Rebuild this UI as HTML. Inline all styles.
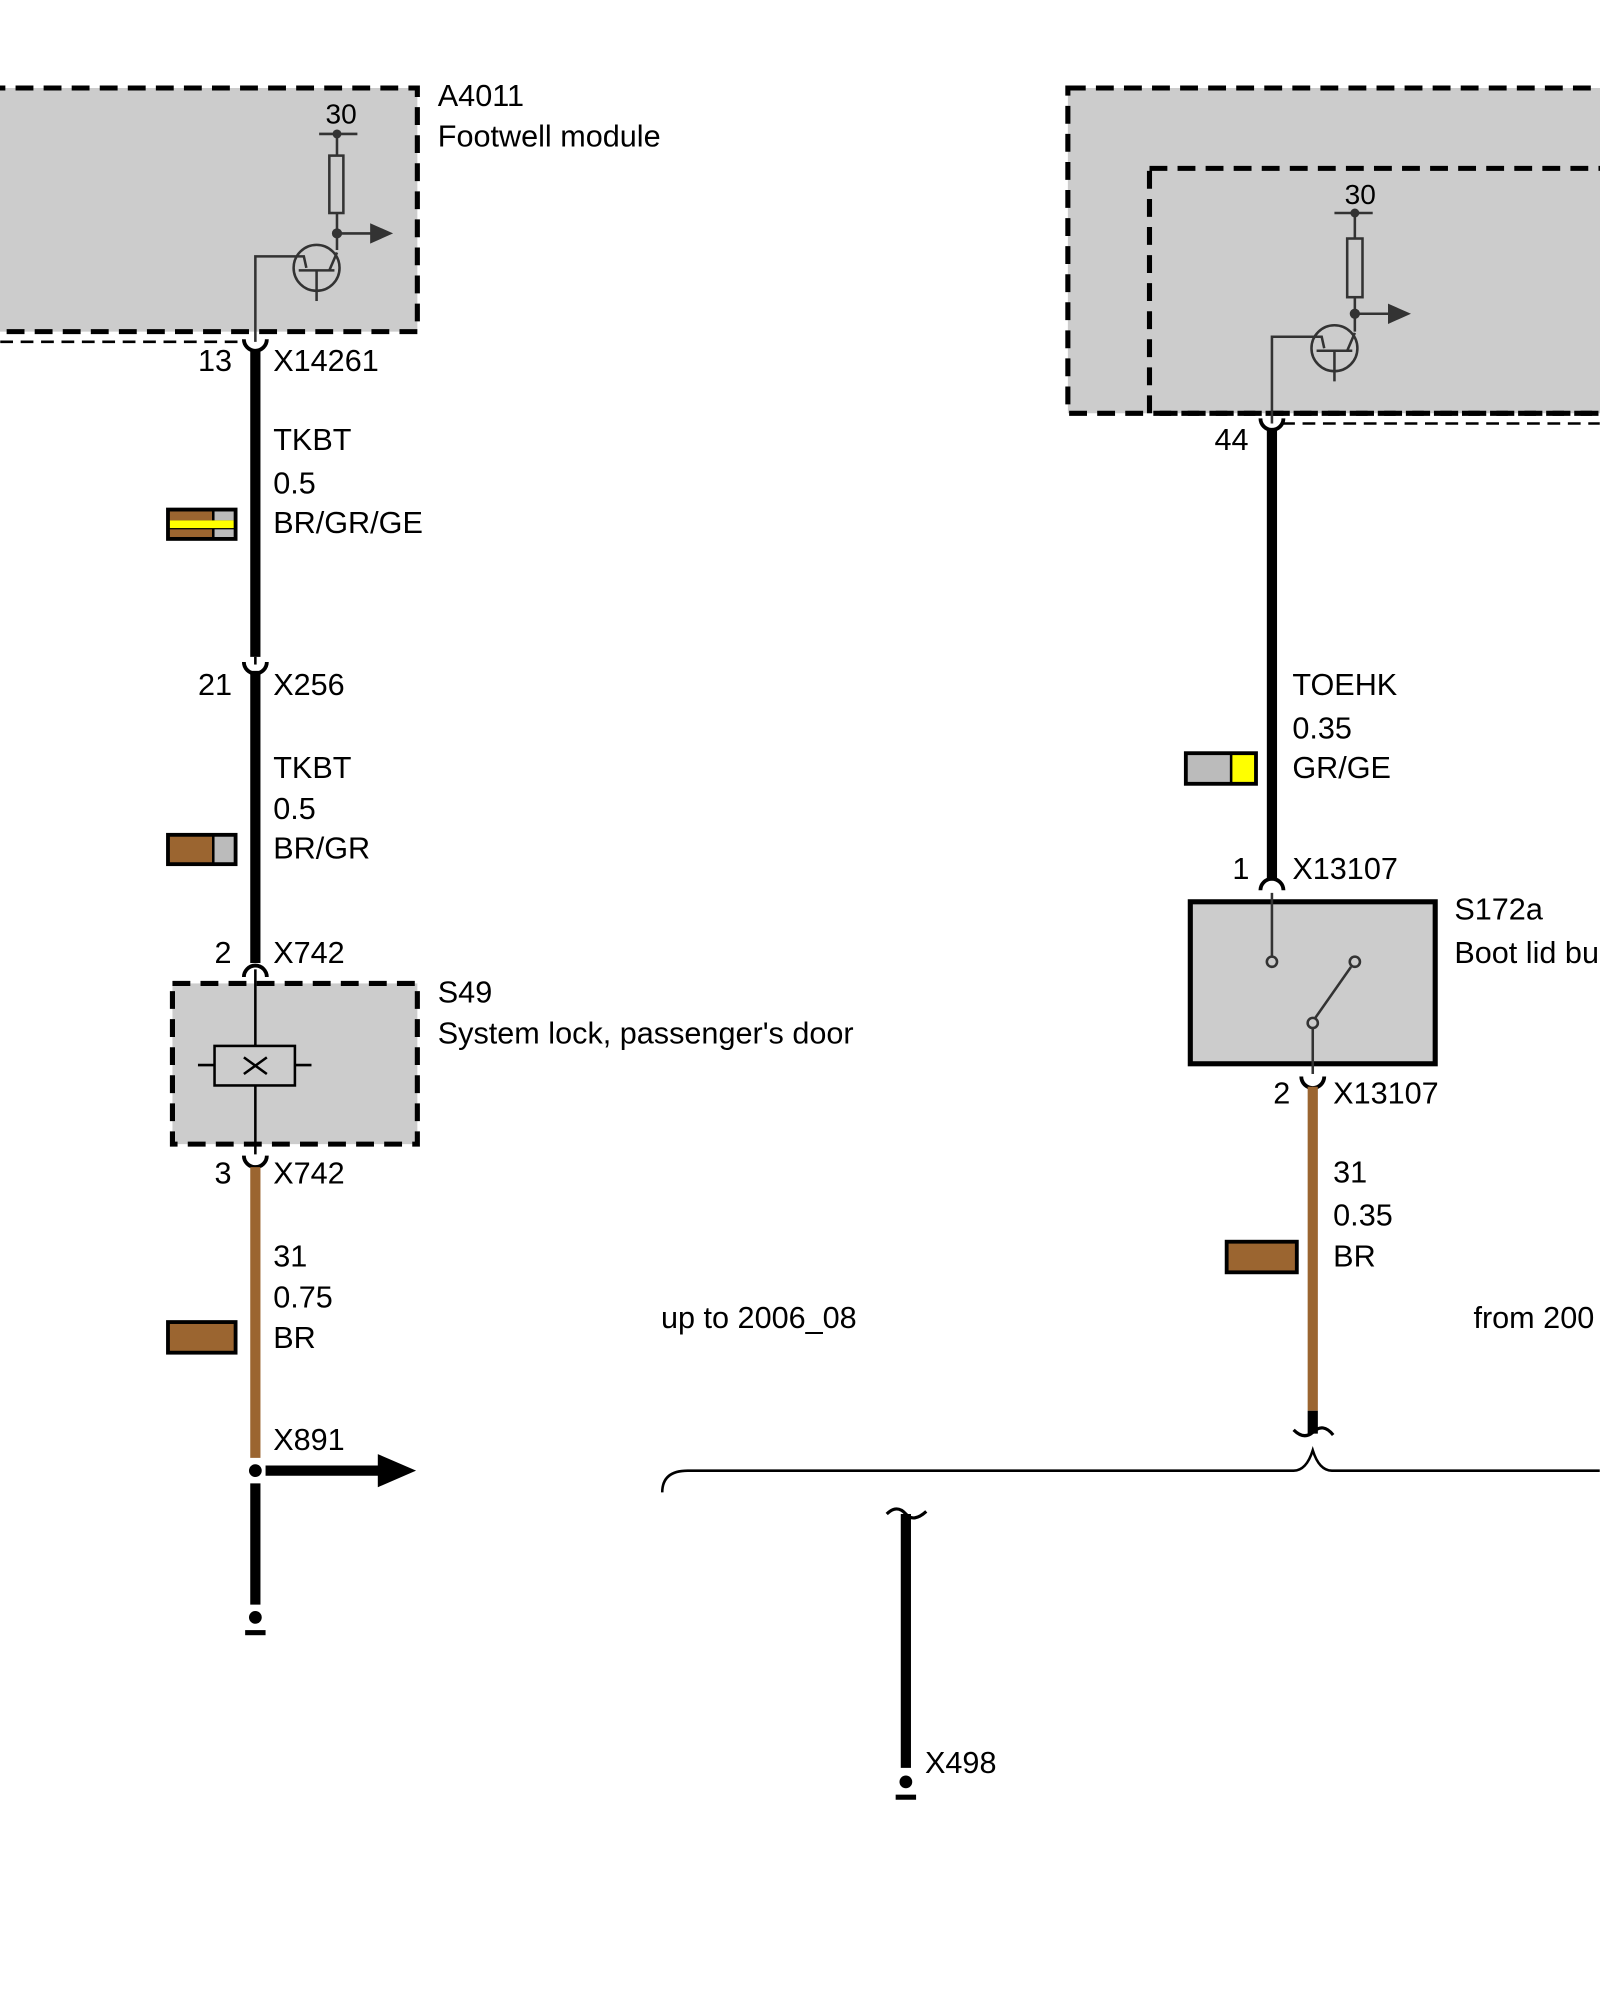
<!DOCTYPE html>
<html><head><meta charset="utf-8"><style>
html,body{margin:0;padding:0;background:#fff;}
svg{display:block;}
text{font-family:"Liberation Sans",sans-serif;font-size:24px;fill:#000;}
.s{font-size:22px;}
</style></head><body>
<svg width="1600" height="2000" viewBox="0 0 1254 1568" xmlns="http://www.w3.org/2000/svg">
<rect width="1254" height="1568" fill="#fff"/>
<!-- Left module A4011 -->
<rect x="-10" y="69" width="337" height="191" fill="#ccc" stroke="#000" stroke-width="4" stroke-dasharray="14,8"/>
<line x1="0" y1="268" x2="192" y2="268" stroke="#000" stroke-width="2" stroke-dasharray="10,6"/>
<g stroke="#333" stroke-width="2" fill="none">
<line x1="250" y1="105" x2="280" y2="105"/>
<line x1="264" y1="105" x2="264" y2="122"/>
<rect x="258" y="122" width="11" height="45"/>
<line x1="264" y1="167" x2="264" y2="196"/>
<line x1="264" y1="183" x2="292" y2="183"/>
<circle cx="248" cy="210" r="18"/>
<line x1="234" y1="212" x2="262" y2="212"/>
<line x1="248" y1="212" x2="248" y2="236"/>
<line x1="258" y1="212" x2="264" y2="198"/>
<polyline points="200,268 200,201 238,201 240,210"/>
</g>
<circle cx="264" cy="105" r="3.5" fill="#333"/>
<circle cx="264" cy="183" r="4" fill="#333"/>
<polygon points="290,175 308,183 290,191" fill="#333"/>
<text x="343" y="83">A4011</text>
<text x="343" y="115">Footwell module</text>
<text class="s" x="255" y="97">30</text>
<!-- left wire -->
<line x1="200" y1="275" x2="200" y2="515" stroke="#000" stroke-width="8"/>
<path d="M191,266 a9,9 0 0 0 18,0" stroke="#000" stroke-width="3" fill="none"/>
<text x="155" y="291">13</text><text x="214" y="291">X14261</text>
<text x="214" y="353">TKBT</text><text x="214" y="387">0.5</text><text x="214" y="418">BR/GR/GE</text>
<rect x="130" y="398" width="56" height="26" fill="#000"/>
<rect x="133" y="401" width="33" height="7" fill="#9b6530"/><rect x="168" y="401" width="15" height="7" fill="#bbb"/>
<rect x="133" y="408" width="50" height="6" fill="#ff0"/>
<rect x="133" y="415" width="33" height="6" fill="#9b6530"/><rect x="168" y="415" width="15" height="6" fill="#bbb"/>
<line x1="200" y1="515" x2="200" y2="521" stroke="#000" stroke-width="2"/>
<path d="M191,519 a9,9 0 0 0 18,0" stroke="#000" stroke-width="3" fill="none"/>
<line x1="200" y1="526" x2="200" y2="755" stroke="#000" stroke-width="8"/>
<text x="155" y="545">21</text><text x="214" y="545">X256</text>
<text x="214" y="610">TKBT</text><text x="214" y="642">0.5</text><text x="214" y="673">BR/GR</text>
<rect x="130" y="653" width="56" height="26" fill="#000"/>
<rect x="133" y="656" width="33" height="20" fill="#9b6530"/><rect x="168" y="656" width="15" height="20" fill="#bbb"/>
<path d="M191,766 a9,9 0 0 1 18,0" stroke="#000" stroke-width="3" fill="none"/>
<text x="168" y="755">2</text><text x="214" y="755">X742</text>
<!-- S49 -->
<rect x="135" y="771" width="192" height="126" fill="#ccc" stroke="#000" stroke-width="4" stroke-dasharray="14,8"/>
<g stroke="#000" stroke-width="2" fill="none">
<line x1="200" y1="760" x2="200" y2="905"/>
<rect x="168" y="820" width="63" height="31" fill="#ccc"/>
<line x1="155" y1="835" x2="168" y2="835"/><line x1="231" y1="835" x2="244" y2="835"/>
<line x1="191" y1="829" x2="209" y2="842"/><line x1="191" y1="842" x2="209" y2="829"/>
</g>
<text x="343" y="786">S49</text><text x="343" y="818">System lock, passenger's door</text>
<path d="M191,906 a9,9 0 0 0 18,0" stroke="#000" stroke-width="3" fill="none"/>
<text x="168" y="928">3</text><text x="214" y="928">X742</text>
<line x1="200" y1="915" x2="200" y2="1143" stroke="#9b6530" stroke-width="8"/>
<text x="214" y="993">31</text><text x="214" y="1025">0.75</text><text x="214" y="1057">BR</text>
<rect x="130" y="1035" width="56" height="27" fill="#000"/><rect x="133" y="1038" width="50" height="21" fill="#9b6530"/>
<circle cx="200" cy="1153" r="8" fill="#fff"/><circle cx="200" cy="1153" r="5" fill="#000"/>
<line x1="208" y1="1153" x2="298" y2="1153" stroke="#000" stroke-width="8"/>
<polygon points="296,1140 326,1153 296,1166" fill="#000"/>
<text x="214" y="1137">X891</text>
<line x1="200" y1="1163" x2="200" y2="1258" stroke="#000" stroke-width="8"/>
<circle cx="200" cy="1268" r="5" fill="#000"/>
<rect x="192" y="1278" width="16" height="4" fill="#000"/>
<!-- Right module -->
<rect x="837" y="69" width="430" height="255" fill="#ccc" stroke="#000" stroke-width="4" stroke-dasharray="14,8"/>
<rect x="901" y="132" width="366" height="192" fill="none" stroke="#000" stroke-width="4" stroke-dasharray="14,8"/>
<line x1="1005" y1="332" x2="1254" y2="332" stroke="#000" stroke-width="2" stroke-dasharray="10,6"/>
<g stroke="#333" stroke-width="2" fill="none">
<line x1="1046" y1="167" x2="1076" y2="167"/>
<line x1="1062" y1="167" x2="1062" y2="187"/>
<rect x="1056" y="187" width="12" height="46"/>
<line x1="1062" y1="233" x2="1062" y2="260"/>
<line x1="1062" y1="246" x2="1090" y2="246"/>
<circle cx="1046" cy="273" r="18"/>
<line x1="1032" y1="275" x2="1060" y2="275"/>
<line x1="1046" y1="275" x2="1046" y2="299"/>
<line x1="1056" y1="275" x2="1062" y2="261"/>
<polyline points="997,332 997,264 1036,264 1038,273"/>
</g>
<circle cx="1062" cy="167" r="3.5" fill="#333"/>
<circle cx="1062" cy="246" r="4" fill="#333"/>
<polygon points="1088,238 1106,246 1088,254" fill="#333"/>
<text class="s" x="1054" y="160">30</text>
<path d="M988,328 a9,9 0 0 0 18,0" stroke="#000" stroke-width="3" fill="none"/>
<text x="952" y="353">44</text>
<line x1="997" y1="337" x2="997" y2="690" stroke="#000" stroke-width="8"/>
<text x="1013" y="545">TOEHK</text><text x="1013" y="579">0.35</text><text x="1013" y="610">GR/GE</text>
<rect x="928" y="589" width="58" height="27" fill="#000"/>
<rect x="931" y="592" width="33" height="21" fill="#bbb"/><rect x="966" y="592" width="17" height="21" fill="#ff0"/>
<path d="M988,698 a9,9 0 0 1 18,0" stroke="#000" stroke-width="3" fill="none"/>
<text x="966" y="689">1</text><text x="1013" y="689">X13107</text>
<!-- S172a -->
<rect x="933" y="707" width="192" height="127" fill="#ccc" stroke="#000" stroke-width="4"/>
<g stroke="#333" stroke-width="2" fill="#ccc">
<line x1="997" y1="700" x2="997" y2="750"/>
<circle cx="997" cy="754" r="4"/>
<line x1="1031" y1="798" x2="1059" y2="758"/>
<circle cx="1062" cy="754" r="4"/>
<line x1="1029" y1="806" x2="1029" y2="842"/>
<circle cx="1029" cy="802" r="4"/>
</g>
<text x="1140" y="721">S172a</text><text x="1140" y="755">Boot lid bu</text>
<path d="M1020,844 a9,9 0 0 0 18,0" stroke="#000" stroke-width="3" fill="none"/>
<text x="998" y="865">2</text><text x="1045" y="865">X13107</text>
<line x1="1029" y1="852" x2="1029" y2="1106" stroke="#9b6530" stroke-width="8"/>
<line x1="1029" y1="1106" x2="1029" y2="1124" stroke="#000" stroke-width="8"/>
<path d="M1014,1121 q8,8 15,2 q8,-8 16,2" stroke="#000" stroke-width="2.5" fill="none"/>
<text x="1045" y="927">31</text><text x="1045" y="961">0.35</text><text x="1045" y="993">BR</text>
<rect x="960" y="972" width="58" height="27" fill="#000"/><rect x="963" y="975" width="52" height="21" fill="#9b6530"/>
<text x="518" y="1041">up to 2006_08</text>
<text x="1155" y="1041">from 200</text>
<!-- brace -->
<path d="M519,1170 q0,-17 20,-17 L1014,1153 q10,0 15,-16 q5,16 15,16 L1254,1153" stroke="#000" stroke-width="2" fill="none"/>
<!-- X498 -->
<path d="M695,1187 q8,-8 15,0 q6,7 16,-2" stroke="#000" stroke-width="2.5" fill="none"/>
<line x1="710" y1="1187" x2="710" y2="1386" stroke="#000" stroke-width="8"/>
<circle cx="710" cy="1397" r="5" fill="#000"/>
<rect x="702" y="1407" width="16" height="4" fill="#000"/>
<text x="725" y="1390">X498</text>
</svg>
</body></html>
